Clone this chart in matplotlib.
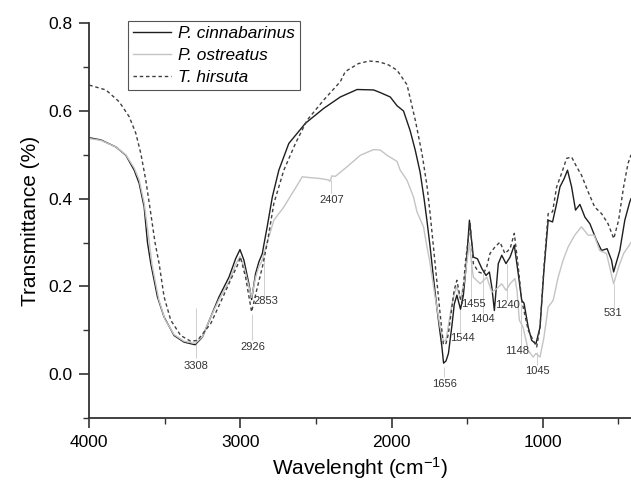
import matplotlib
matplotlib.use("Agg")
import matplotlib.pyplot as plt
from matplotlib.ticker import MultipleLocator

plt.rcParams['font.family'] = ['Liberation Sans', 'DejaVu Sans']
plt.rcParams['mathtext.default'] = 'regular'

# P. cinnabarinus (solid black)
wn_cin = [4000, 3923, 3824, 3758, 3703, 3670, 3637, 3615, 3593, 3549, 3505, 3439, 3373, 3300,
          3252, 3197, 3142, 3076, 3032, 3003, 2977, 2944, 2926, 2900, 2878, 2855, 2845, 2822,
          2789, 2746, 2680, 2570, 2449, 2339, 2228, 2119, 2075, 2009, 1964, 1921, 1877, 1843,
          1811, 1785, 1766, 1745, 1723, 1700, 1685, 1667, 1656, 1640, 1624, 1601, 1585, 1568,
          1544, 1525, 1507, 1485, 1459, 1432, 1403, 1375, 1353, 1337, 1320, 1294, 1271, 1243,
          1216, 1188, 1162, 1139, 1124, 1096, 1073, 1045, 1018, 992, 964, 935, 908, 886, 858,
          836, 809, 783, 754, 721, 688, 644, 611, 574, 545, 531, 490, 457, 424, 416]
t_cin = [.539, .534, .518, .499, .465, .435, .381, .30, .252, .176, .130, .088, .073, .067,
         .084, .130, .176, .221, .263, .284, .260, .206, .170, .229, .256, .275, .295, .338,
         .404, .465, .526, .572, .606, .632, .649, .648, .642, .632, .612, .600, .555, .51,
         .46, .40, .35, .29, .22, .15, .11, .062, .025, .03, .047, .11, .16, .18,
         .148, .18, .245, .351, .267, .263, .241, .225, .233, .199, .145, .252, .271, .252,
         .267, .294, .229, .168, .162, .107, .077, .069, .107, .237, .351, .347, .389, .427, .446,
         .465, .427, .374, .387, .358, .343, .305, .282, .286, .260, .233, .282, .351, .393, .40]

# P. ostreatus (light grey)
wn_ost = [4000, 3923, 3824, 3758, 3703, 3670, 3637, 3610, 3585, 3540, 3500, 3439, 3373, 3300,
          3252, 3197, 3142, 3076, 3032, 3003, 2977, 2944, 2926, 2900, 2878, 2855, 2845, 2812,
          2779, 2713, 2658, 2624, 2591, 2537, 2471, 2420, 2407, 2395, 2372, 2294, 2207, 2119,
          2075, 2030, 1964, 1943, 1898, 1855, 1832, 1789, 1766, 1749, 1712, 1679, 1656, 1640,
          1620, 1600, 1585, 1568, 1544, 1520, 1500, 1485, 1470, 1459, 1414, 1370, 1337, 1304,
          1271, 1243, 1216, 1184, 1170, 1155, 1130, 1096, 1063, 1045, 1018, 992, 964, 931, 898,
          865, 832, 788, 744, 700, 660, 623, 578, 531, 498, 465, 416]
t_ost = [.537, .533, .518, .50, .47, .443, .39, .32, .25, .17, .125, .09, .075, .07,
         .085, .13, .17, .21, .25, .268, .245, .20, .175, .22, .245, .26, .275, .313,
         .351, .381, .412, .431, .450, .448, .446, .443, .44, .452, .451, .473, .499, .512,
         .511, .499, .485, .465, .442, .404, .37, .336, .29, .26, .176, .107, .075, .078,
         .12, .16, .184, .199, .17, .21, .26, .30, .25, .221, .206, .221, .187, .195,
         .206, .191, .206, .218, .19, .123, .107, .054, .039, .047, .039, .084, .153, .168, .221,
         .260, .290, .317, .336, .317, .317, .282, .275, .206, .244, .275, .30]

# T. hirsuta (dashed)
wn_hir = [4000, 3890, 3802, 3736, 3692, 3659, 3626, 3593, 3565, 3538, 3505, 3461, 3395, 3329,
          3284, 3197, 3130, 3066, 3020, 3000, 2966, 2926, 2893, 2855, 2822, 2779, 2713, 2636,
          2559, 2449, 2339, 2306, 2220, 2150, 2080, 2020, 1964, 1898, 1843, 1799, 1766, 1745,
          1712, 1679, 1657, 1640, 1624, 1601, 1586, 1568, 1547, 1535, 1510, 1480, 1459, 1426,
          1393, 1371, 1349, 1316, 1283, 1250, 1216, 1188, 1162, 1139, 1096, 1063, 1040, 1018,
          992, 964, 935, 908, 875, 842, 809, 776, 744, 700, 656, 611, 568, 530, 498, 465, 436, 416]
t_hir = [.659, .648, .621, .587, .549, .503, .442, .366, .30, .252, .176, .123, .088, .075,
         .077, .115, .165, .214, .248, .267, .221, .142, .191, .244, .30, .389, .465, .526,
         .579, .625, .667, .69, .708, .714, .712, .705, .693, .66, .579, .503, .43, .366,
         .252, .138, .067, .07, .092, .153, .191, .214, .176, .161, .26, .343, .252, .233,
         .229, .244, .275, .290, .301, .275, .286, .321, .244, .168, .100, .077, .062, .107,
         .244, .366, .370, .427, .458, .492, .495, .473, .454, .416, .381, .366, .343, .309, .351, .427, .480, .50]

# peak labels: text, text position, guide line (x, y from, y to)
peak_txt = ['3308', '2926', '2853', '2407', '1656', '1544', '1455', '1404', '1240', '1148', '1045', '531']
peak_tx = [3296, 2920, 2829, 2394, 1650, 1529, 1459, 1397, 1234, 1172, 1036, 535]
peak_ty = [.018, .063, .167, .398, -.022, .083, .161, .126, .157, .053, .007, .139]
line_x = [3296, 2926, 2845, 2400, 1650, 1546, 1474, 1395, 1238, 1146, 1040, 531]
line_y0 = [.150, .138, .266, .442, .016, .153, .26, .23, .25, .16, .05, .206]
line_y1 = [.036, .077, .175, .412, -.007, .092, .173, .14, .17, .065, .02, .15]

fig = plt.figure(figsize=(6.31, 4.82), dpi=100)
ax = fig.add_axes([0.1415, 0.1328, 0.8585, 0.8189])

ax.vlines(line_x, line_y0, line_y1, colors='#c8c8c8', linewidth=0.6)
ax.plot(wn_cin, t_cin, color='#1e1e1e', lw=1.0, label='P. cinnabarinus')
ax.plot(wn_ost, t_ost, color='#c4c4c4', lw=1.0, label='P. ostreatus')
ax.plot(wn_hir, t_hir, color='#404040', lw=1.0, ls=(0, (2.5, 2)), label='T. hirsuta')

for s, x, y in zip(peak_txt, peak_tx, peak_ty):
    ax.text(x, y, s, fontsize=8, color='#333333', ha='center', va='center')

ax.set_xlim(4000, 416)
ax.set_ylim(-0.1, 0.8)
ax.xaxis.set_major_locator(MultipleLocator(1000))
ax.xaxis.set_minor_locator(MultipleLocator(500))
ax.yaxis.set_major_locator(MultipleLocator(0.2))
ax.yaxis.set_minor_locator(MultipleLocator(0.1))
ax.set_xticks([4000, 3000, 2000, 1000])
ax.set_yticks([0.0, 0.2, 0.4, 0.6, 0.8])
ax.set_yticklabels(['0.0', '0.2', '0.4', '0.6', '0.8'])

for side in ['top', 'right']:
    ax.spines[side].set_visible(False)
for side in ['left', 'bottom']:
    ax.spines[side].set_linewidth(1.3)
    ax.spines[side].set_color('#333333')
ax.spines['left'].set_bounds(-0.1, 0.8)

ax.tick_params(which='major', direction='out', length=7, width=1.2, color='#333333',
               labelsize=12.5, pad=5)
ax.tick_params(which='minor', direction='out', length=4, width=1.0, color='#333333')

ax.set_xlabel('Wavelenght (cm$^{-1}$)', fontsize=15, labelpad=4)
ax.set_ylabel('Transmittance (%)', fontsize=15, labelpad=6)

leg = ax.legend(loc='upper left', bbox_to_anchor=(0.0714, 1.006), borderaxespad=0,
                fancybox=False, edgecolor='#555555', framealpha=1,
                prop={'style': 'italic', 'size': 12.4}, handlelength=2.2,
                handletextpad=0.4, borderpad=0.3, labelspacing=0.4)
leg.get_frame().set_linewidth(0.8)

fig.savefig('out.png', dpi=100)
